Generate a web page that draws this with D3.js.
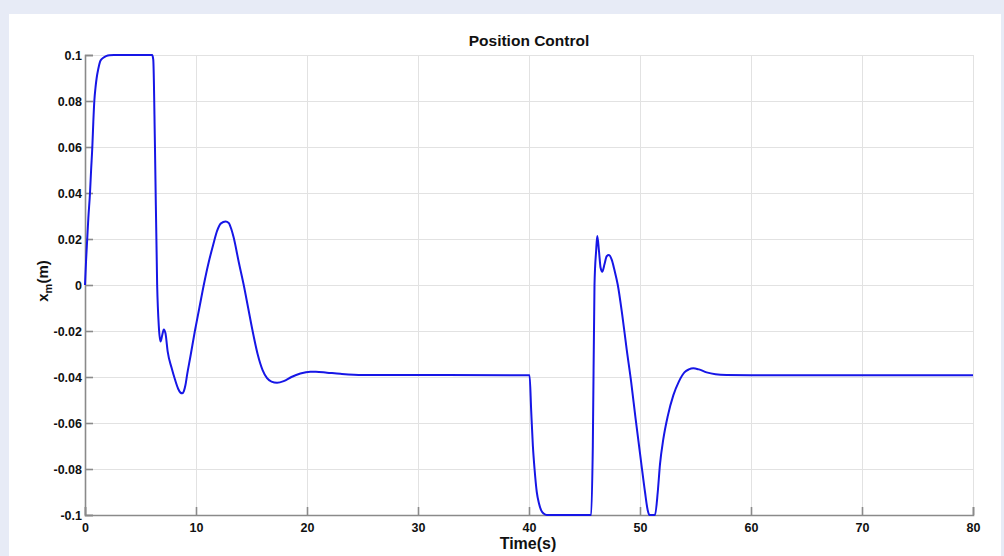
<!DOCTYPE html>
<html>
<head>
<meta charset="utf-8">
<script src="https://cdn.jsdelivr.net/npm/d3@7"></script>
<style>
  html, body { margin:0; padding:0; background:#e7ebf6; }
  svg { display:block; }
  text { font-family: "Liberation Sans", Arial, sans-serif; font-weight: bold; fill:#111; }
</style>
</head>
<body>
<svg id="chart"></svg>
<script>
// time (s) and position x_m (m)
var timeS = [0, 0.1, 0.2, 0.3, 0.45, 0.55, 0.66, 0.75, 0.84, 0.95, 1.05, 1.2, 1.35, 1.5, 1.65, 1.9, 2.2, 2.6,
  6.05, 6.15, 6.3, 6.5, 6.65, 6.8, 6.95, 7.1, 7.25, 7.45, 7.8, 8.1, 8.4, 8.6, 8.75, 8.9, 9.05, 9.2, 9.5, 9.9, 10.3, 10.7,
  11.15, 11.55, 11.9, 12.25, 12.67, 12.95, 13.2, 13.4, 13.85, 14.3, 14.7, 15.1, 15.55, 16.0, 16.4, 16.8, 17.3, 17.9, 18.6,
  19.4, 20.3, 20.8, 21.8, 23, 25, 40.05, 40.2, 40.35, 40.5, 40.7, 40.9, 41.1, 41.35, 41.6, 45.6, 45.75, 45.9, 46.05,
  46.15, 46.3, 46.45, 46.6, 46.8, 47.0, 47.2, 47.45, 47.7, 48.0, 48.4, 48.8, 49.2, 49.6, 50.1, 50.45, 50.7, 50.85,
  51.35, 51.6, 51.8, 52.1, 52.5, 53.0, 53.5, 54.0, 54.4, 54.8, 55.3, 56, 56.8, 57.8, 60, 80];
var posM = [0, 0.011, 0.02, 0.029, 0.04, 0.05, 0.06, 0.071, 0.08, 0.086, 0.09, 0.094, 0.097, 0.0982, 0.0988, 0.0995, 0.0999, 0.1,
  0.1, 0.098, 0.061, 0.0, -0.018, -0.0246, -0.022, -0.0193, -0.021, -0.029, -0.036, -0.041, -0.0452, -0.0468, -0.0471, -0.0462, -0.0435, -0.039, -0.031, -0.02, -0.01, 0.0,
  0.01, 0.0175, 0.0235, 0.0268, 0.0276, 0.027, 0.024, 0.0205, 0.01, 0.0, -0.01, -0.02, -0.03, -0.037, -0.0405, -0.042, -0.0425, -0.0418, -0.04,
  -0.0385, -0.0377, -0.0377, -0.0381, -0.0386, -0.0391, -0.0392, -0.055, -0.07, -0.08, -0.09, -0.095, -0.098, -0.0995, -0.1, -0.1, -0.07, 0.0, 0.015,
  0.0213, 0.015, 0.0075, 0.0058, 0.009, 0.0125, 0.013, 0.011, 0.0065, 0.0, -0.013, -0.028, -0.042, -0.058, -0.077, -0.09, -0.098, -0.1,
  -0.1, -0.09, -0.078, -0.067, -0.057, -0.048, -0.042, -0.038, -0.0367, -0.0362, -0.0367, -0.038, -0.0388, -0.0391, -0.0392, -0.0392];

var xTicks = [0, 10, 20, 30, 40, 50, 60, 70, 80];
var yTicks = [-0.1, -0.08, -0.06, -0.04, -0.02, 0, 0.02, 0.04, 0.06, 0.08, 0.1];

var width = 1004, height = 556;
var margin = {top:55, left:85, bottom:41, right:31};

var svg = d3.select("#chart").attr("width", width).attr("height", height);

// white panel
svg.append("rect").attr("x", 9).attr("y", 14).attr("width", 992).attr("height", 542).attr("fill", "#fff");

var x = d3.scaleLinear().domain([0, 80]).range([margin.left, width - margin.right]);
var y = d3.scaleLinear().domain([-0.1, 0.1]).range([height - margin.bottom, margin.top]);

// grid
var grid = svg.append("g").attr("stroke", "#e2e2e2").attr("stroke-width", 1);
grid.selectAll(".gx").data(xTicks.slice(1)).enter().append("line")
  .attr("x1", function(d){ return Math.round(x(d)) + 0.5 })
  .attr("x2", function(d){ return Math.round(x(d)) + 0.5 })
  .attr("y1", y(0.1)).attr("y2", y(-0.1));
grid.selectAll(".gy").data(yTicks.slice(1)).enter().append("line")
  .attr("y1", function(d){ return Math.round(y(d)) + 0.5 })
  .attr("y2", function(d){ return Math.round(y(d)) + 0.5 })
  .attr("x1", x(0)).attr("x2", x(80));

// axes
var fmt = function(d){ return String(Math.round(d * 100) / 100) };

var yAxis = svg.append("g")
  .attr("transform", "translate(" + x(0) + ",0)")
  .call(d3.axisRight(y).tickValues(yTicks).tickSize(8).tickFormat(fmt));
yAxis.select(".domain").attr("stroke", "#8a8a8a").attr("stroke-width", 1.6);
yAxis.selectAll(".tick line").attr("stroke", "#8a8a8a").attr("stroke-width", 1.6);
yAxis.selectAll(".tick text")
  .attr("x", -3).attr("text-anchor", "end")
  .style("font-size", "12.5px").style("font-family", "Liberation Sans, Arial, sans-serif").style("font-weight", "bold").attr("fill", "#111");

var xAxis = svg.append("g")
  .attr("transform", "translate(0," + y(-0.1) + ")")
  .call(d3.axisTop(x).tickValues(xTicks).tickSize(8).tickFormat(d3.format("d")));
xAxis.select(".domain").attr("stroke", "#8a8a8a").attr("stroke-width", 1.6);
xAxis.selectAll(".tick line").attr("stroke", "#8a8a8a").attr("stroke-width", 1.6);
xAxis.selectAll(".tick text")
  .attr("y", 17).attr("dy", null)
  .style("font-size", "12.5px").style("font-family", "Liberation Sans, Arial, sans-serif").style("font-weight", "bold").attr("fill", "#111");

// data line
var data = timeS.map(function(t, i){ return {t: t, v: posM[i]} });
var line = d3.line()
  .x(function(d){ return x(d.t) })
  .y(function(d){ return y(d.v) })
  .curve(d3.curveMonotoneX);

svg.append("path").datum(data)
  .attr("d", line)
  .attr("fill", "none")
  .attr("stroke", "#1616e6")
  .attr("stroke-width", 2)
  .attr("stroke-linejoin", "round");

// titles
svg.append("text").attr("x", 529).attr("y", 46).attr("text-anchor", "middle")
  .style("font-size", "15.5px").text("Position Control");

svg.append("text").attr("x", 528).attr("y", 549).attr("text-anchor", "middle")
  .style("font-size", "16px").text("Time(s)");

var yl = svg.append("text").attr("transform", "translate(48,281) rotate(-90)")
  .attr("text-anchor", "middle").style("font-size", "15px");
yl.append("tspan").text("x");
yl.append("tspan").attr("dy", 4).style("font-size", "11px").text("m");
yl.append("tspan").attr("dy", -4).text("(m)");
</script>
</body>
</html>
